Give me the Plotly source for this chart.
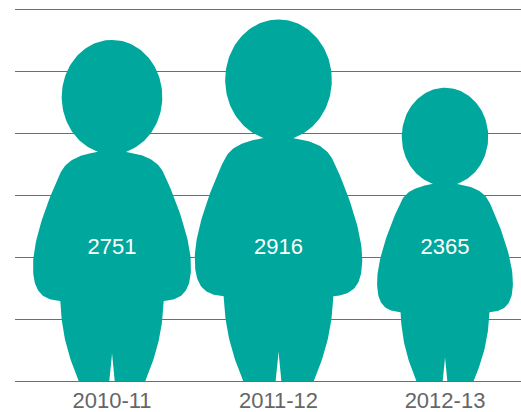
import numpy as np
import plotly.graph_objects as go

categories = ["2010-11", "2011-12", "2012-13"]
values = [2751, 2916, 2365]
y_ticks = [0, 500, 1000, 1500, 2000, 2500, 3000]

TEAL = "#00A79D"
GRID = "#6E6E6E"
PX_PER_CAT = 166.5
REF_VALUE = 2751
REF_H = 341.0
LABEL_Y = 1070
PAD = 32.26   # 4 px of room above and below the 0 and 3000 grid lines


def bez(p0, c1, c2, p1, n=30):
    t = np.linspace(0, 1, n)[:, None]
    p0, c1, c2, p1 = map(lambda q: np.array(q, float), (p0, c1, c2, p1))
    return (1 - t)**3 * p0 + 3 * (1 - t)**2 * t * c1 + 3 * (1 - t) * t**2 * c2 + t**3 * p1


# Person glyph: half outline, (offset from centre, height above baseline) at REF_VALUE size
def glyph():
    th = np.linspace(0, np.pi - np.arcsin(14 / 50.3), 70)
    head = np.c_[50.3 * np.sin(th), 57 * np.cos(th) + 284]
    right = np.vstack([
        head,
        bez((14, 229), (30, 226.5), (44.7, 222.7), (51.7, 207.7)),
        bez((51.7, 207.7), (65.7, 177.7), (79, 140), (79, 115)),
        bez((79, 115), (79, 92), (72, 81), (51.7, 80)),
        bez((51.7, 80), (50.5, 50), (45, 28), (33.3, 0)),
        bez((2.7, 0), (1.5, 10), (0.5, 20), (0, 28)),
    ])
    left = right[::-1][1:] * np.array([-1, 1])
    return np.vstack([right, left])


G = glyph()
fig = go.Figure()
for i, (cat, val) in enumerate(zip(categories, values)):
    s = val / REF_VALUE
    fig.add_trace(go.Scatter(
        x=i + G[:, 0] * s / PX_PER_CAT,
        y=val * G[:, 1] / REF_H,
        mode="lines", fill="toself", fillcolor=TEAL,
        line=dict(color=TEAL, width=0), hoverinfo="skip", showlegend=False,
    ))

fig.add_trace(go.Scatter(
    x=list(range(len(values))), y=[LABEL_Y] * len(values),
    mode="text", text=[str(v) for v in values],
    textfont=dict(family="Liberation Sans", size=22, color="white"),
    showlegend=False, hoverinfo="skip",
))

fig.update_layout(
    width=521, height=412, margin=dict(l=15, r=0, t=5, b=27, autoexpand=False),
    plot_bgcolor="white", paper_bgcolor="white",
    xaxis=dict(range=[(15 - 112) / PX_PER_CAT, (521 - 112) / PX_PER_CAT],
               tickvals=list(range(len(categories))), ticktext=categories,
               showgrid=False, zeroline=False, ticks="", ticklabelstandoff=0,
               tickfont=dict(family="Liberation Sans", size=22, color="#666666")),
    yaxis=dict(range=[-PAD, 3000 + PAD], tickvals=y_ticks, showticklabels=False,
               showgrid=True, gridcolor=GRID, gridwidth=1, zeroline=True,
               zerolinecolor=GRID, zerolinewidth=1, showline=False, ticks=""),
)
fig.write_html("out.html", config=dict(displayModeBar=False),
               post_script="document.body.style.margin='0';")
